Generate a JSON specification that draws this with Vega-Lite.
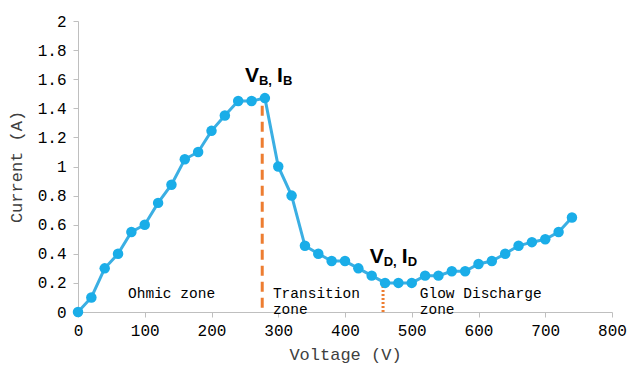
{
  "$schema": "https://vega.github.io/schema/vega-lite/v6.json",
  "width": 534,
  "height": 291,
  "autosize": {"type": "none"},
  "padding": {"left": 78, "top": 21, "right": 17, "bottom": 53},
  "background": "white",
  "config": {
    "view": {"stroke": null},
    "axis": {
      "grid": false,
      "domainColor": "#BFBFBF",
      "tickColor": "#BFBFBF",
      "tickSize": 5,
      "labelFont": "Liberation Mono",
      "labelFontSize": 16,
      "labelColor": "#000000",
      "titleFont": "Liberation Mono",
      "titleFontSize": 17,
      "titleFontWeight": "normal",
      "titleColor": "#404040"
    }
  },
  "datasets": {
    "curve": [
      {"v": 0, "i": 0}, {"v": 20, "i": 0.1}, {"v": 40, "i": 0.3}, {"v": 60, "i": 0.4},
      {"v": 80, "i": 0.55}, {"v": 100, "i": 0.6}, {"v": 120, "i": 0.75}, {"v": 140, "i": 0.875},
      {"v": 160, "i": 1.05}, {"v": 180, "i": 1.1}, {"v": 200, "i": 1.245}, {"v": 220, "i": 1.35},
      {"v": 240, "i": 1.45}, {"v": 260, "i": 1.45}, {"v": 280, "i": 1.47}, {"v": 300, "i": 1.0},
      {"v": 320, "i": 0.8}, {"v": 340, "i": 0.455}, {"v": 360, "i": 0.4}, {"v": 380, "i": 0.35},
      {"v": 400, "i": 0.35}, {"v": 420, "i": 0.3}, {"v": 440, "i": 0.25}, {"v": 460, "i": 0.2},
      {"v": 480, "i": 0.2}, {"v": 500, "i": 0.2}, {"v": 520, "i": 0.25}, {"v": 540, "i": 0.25},
      {"v": 560, "i": 0.28}, {"v": 580, "i": 0.28}, {"v": 600, "i": 0.33}, {"v": 620, "i": 0.35},
      {"v": 640, "i": 0.4}, {"v": 660, "i": 0.455}, {"v": 680, "i": 0.48}, {"v": 700, "i": 0.5},
      {"v": 720, "i": 0.55}, {"v": 740, "i": 0.65}
    ],
    "breakdown": [{"v": 276, "i": 0.03, "i2": 1.47}],
    "discharge": [{"v": 457, "i": 0, "i2": 0.19}],
    "zones": [
      {"v": 75, "i": 0.175, "label": "Ohmic zone"},
      {"v": 292, "i": 0.175, "label": "Transition\nzone"},
      {"v": 512, "i": 0.175, "label": "Glow Discharge\nzone"}
    ],
    "points": [
      {"v": 250, "i": 1.58, "main": "V", "sub": "B,", "main2": "I", "sub2": "B"},
      {"v": 437, "i": 0.337, "main": "V", "sub": "D,", "main2": "I", "sub2": "D"}
    ]
  },
  "encoding": {
    "x": {
      "field": "v", "type": "quantitative",
      "scale": {"domain": [0, 800], "nice": false},
      "axis": {"values": [0, 100, 200, 300, 400, 500, 600, 700, 800], "title": "Voltage (V)", "labelPadding": 5, "titlePadding": 8, "labelFlush": false}
    },
    "y": {
      "field": "i", "type": "quantitative",
      "scale": {"domain": [0, 2], "nice": false},
      "axis": {"values": [0, 0.2, 0.4, 0.6, 0.8, 1, 1.2, 1.4, 1.6, 1.8, 2], "format": ".1~f", "title": "Current (A)", "labelPadding": 7, "titlePadding": 12}
    }
  },
  "layer": [
    {
      "data": {"name": "breakdown"},
      "mark": {"type": "rule", "color": "#ED7D31", "strokeWidth": 3, "strokeDash": [10, 6]},
      "encoding": {"y2": {"field": "i2"}}
    },
    {
      "data": {"name": "discharge"},
      "mark": {"type": "rule", "color": "#ED7D31", "strokeWidth": 3, "strokeDash": [2, 2]},
      "encoding": {"y2": {"field": "i2"}}
    },
    {
      "data": {"name": "curve"},
      "mark": {"type": "line", "color": "#3BAFE3", "strokeWidth": 3}
    },
    {
      "data": {"name": "curve"},
      "mark": {"type": "point", "filled": true, "opacity": 1, "color": "#1AADE8", "size": 110}
    },
    {
      "data": {"name": "zones"},
      "mark": {"type": "text", "align": "left", "baseline": "top", "lineBreak": "\n", "font": "Liberation Mono", "fontSize": 14.5, "lineHeight": 16, "color": "#000000"},
      "encoding": {"text": {"field": "label"}}
    },
    {
      "data": {"name": "points"},
      "mark": {"type": "text", "align": "left", "baseline": "alphabetic", "font": "Liberation Sans", "fontWeight": "bold", "fontSize": 21, "color": "#000000"},
      "encoding": {"text": {"field": "main"}}
    },
    {
      "data": {"name": "points"},
      "mark": {"type": "text", "align": "left", "baseline": "alphabetic", "font": "Liberation Sans", "fontWeight": "bold", "fontSize": 13, "dx": 14, "dy": 3, "color": "#000000"},
      "encoding": {"text": {"field": "sub"}}
    },
    {
      "data": {"name": "points"},
      "mark": {"type": "text", "align": "left", "baseline": "alphabetic", "font": "Liberation Sans", "fontWeight": "bold", "fontSize": 21, "dx": 32, "color": "#000000"},
      "encoding": {"text": {"field": "main2"}}
    },
    {
      "data": {"name": "points"},
      "mark": {"type": "text", "align": "left", "baseline": "alphabetic", "font": "Liberation Sans", "fontWeight": "bold", "fontSize": 13, "dx": 38, "dy": 3, "color": "#000000"},
      "encoding": {"text": {"field": "sub2"}}
    }
  ]
}
